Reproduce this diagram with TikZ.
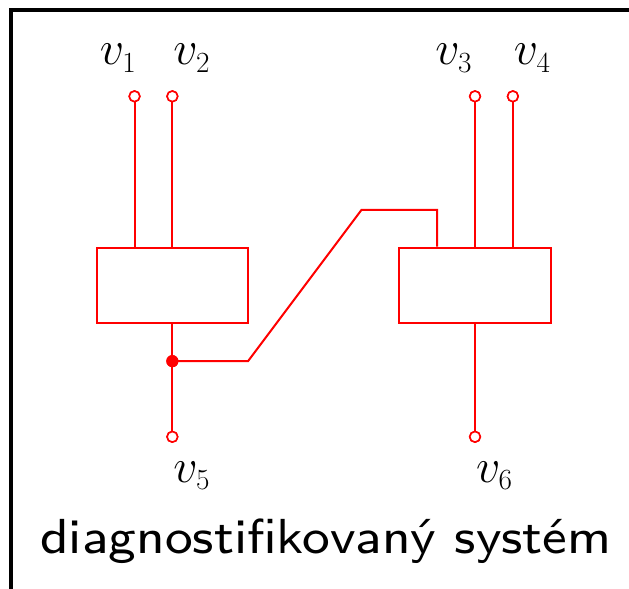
\RequirePackage{fix-cm}
\documentclass[tikz,border=0pt]{standalone}
\usepackage{fontspec}
\newfontfamily\titlefont{lmsans8-regular}[Extension=.otf]
\DeclareMathSizes{36}{36}{22}{16}
\usetikzlibrary{positioning}
\definecolor{cred}{HTML}{FF0000}
\tikzset{
  every picture/.style={line width=1.5pt},
  block/.style={draw=cred, rectangle, minimum width=4cm, minimum height=2cm, inner sep=0pt},
  port/.style={circle, draw=cred, fill=white, inner sep=0pt, minimum size=0.28cm, line width=1.2pt},
  joint/.style={circle, fill=cred, inner sep=0pt, minimum size=0.32cm},
  wire/.style={draw=cred, line width=1.5pt},
  lbl/.style={font=\fontsize{36}{43}\selectfont, inner sep=0pt},
  title/.style={font=\titlefont\fontsize{37}{44}\selectfont, inner sep=0pt},
}

\begin{document}
\begin{tikzpicture}
  \clip (-2.556,-7.02) rectangle (14.07,8.546);
  \useasboundingbox (-2.556,-7.02) rectangle (14.07,8.546);
  \draw[line width=2.5pt] (-2.265,8.28) rectangle (16,-9);
  % the two blocks
  \node[block] (b1) at (2,1) {};
  \node[block] (b2) at (10,1) {};
  % terminals
  \node[port] (p1) at (1,6) {};
  \node[port] (p2) at (2,6) {};
  \node[port] (p3) at (10,6) {};
  \node[port] (p4) at (11,6) {};
  \node[port] (p5) at (2,-3) {};
  \node[port] (p6) at (10,-3) {};
  \node[joint] (j) at (2,-1) {};
  \coordinate (k1) at (4,-1);
  \coordinate (k2) at (7,3);
  \coordinate (k3) at (9,3);
  \draw[wire] (p1) -- (p1 |- b1.north);
  \draw[wire] (p2) -- (b1);
  \draw[wire] (p3) -- (b2);
  \draw[wire] (p4) -- (p4 |- b2.north);
  \draw[wire] (b1) -- (p5);
  \draw[wire] (b2) -- (p6);
  \draw[wire] (j.center) -- (k1) -- (k2) -- (k3) -- (k3 |- b2.north);
  \node[joint] at (j) {};
  \foreach \p in {p1,p2,p3,p4,p5,p6} {\node[port] at (\p) {};}
  % labels
  \node[lbl, anchor=base east] (l1) at (1.08,6.83) {$v_1$};
  \node[lbl, anchor=base west] (l2) at (2,6.83) {$v_2$};
  \node[lbl, anchor=base east] (l3) at (9.95,6.83) {$v_3$};
  \node[lbl, anchor=base west] (l4) at (11,6.83) {$v_4$};
  \node[lbl, anchor=base west] (l5) at (2,-4.21) {$v_5$};
  \node[lbl, anchor=base west] (l6) at (10,-4.21) {$v_6$};
  \node[title, anchor=base] (t) at (6.06,-6.08) {\scalebox{1.06}[1]{diagnostifikovaný systém}};
\end{tikzpicture}
\end{document}
